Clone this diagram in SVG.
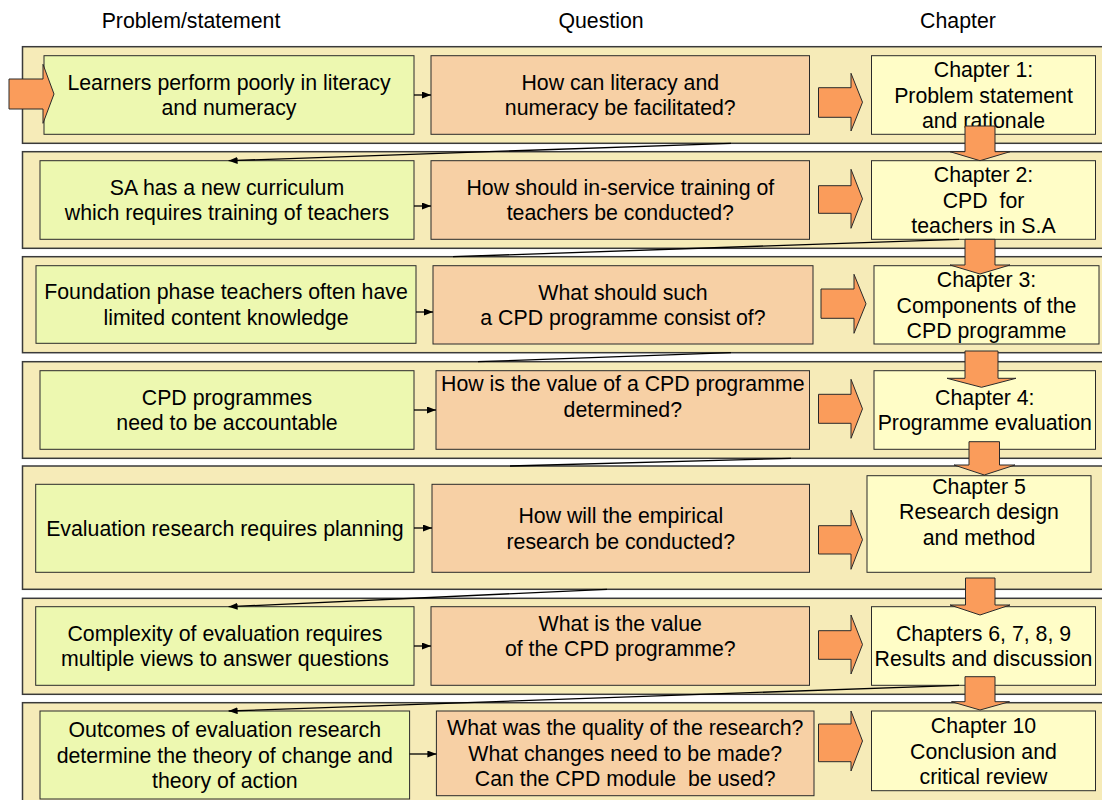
<svg xmlns="http://www.w3.org/2000/svg" width="1102" height="800" viewBox="0 0 1102 800">
<defs>
<style>
.band{fill:#F6EBB8;stroke:#3a3a3a;stroke-width:1.5}
.g{fill:#EDF8B0;stroke:#2a2a2a;stroke-width:1}
.o{fill:#F7D0A5;stroke:#2a2a2a;stroke-width:1}
.c{fill:#FFFDC7;stroke:#2a2a2a;stroke-width:1}
.ar{fill:#FA9C5B;stroke:#2a2a2a;stroke-width:1}
text{font-family:"Liberation Sans",Arial,sans-serif;font-size:21.3px;fill:#000;text-anchor:middle}
.ln{stroke:#000;stroke-width:1.3;fill:none}
</style>
<marker id="ah" markerWidth="9" markerHeight="7" refX="9" refY="3.5" orient="auto" markerUnits="userSpaceOnUse"><path d="M0,0 L9,3.5 L0,7 z" fill="#000"/></marker>
</defs>
<rect width="1102" height="800" fill="#fff"/>
<g id="headers">
<text x="191" y="28">Problem/statement</text>
<text x="601" y="28">Question</text>
<text x="958" y="28">Chapter</text>
</g>
<g id="bands">
<rect class="band" x="22.5" y="46.7" width="1090" height="96.6"/>
<rect class="band" x="22.5" y="151.7" width="1090" height="96.6"/>
<rect class="band" x="22.5" y="256.7" width="1090" height="96"/>
<rect class="band" x="22.5" y="361.7" width="1090" height="96.6"/>
<rect class="band" x="22.5" y="466" width="1090" height="123.3"/>
<rect class="band" x="22.5" y="598.3" width="1090" height="96"/>
<rect class="band" x="22.5" y="702.7" width="1090" height="105"/>
</g>
<g id="row1">
<g id="p1"><rect class="g" x="44" y="55.7" width="370" height="78.6"/><text x="229" y="89.8">Learners perform poorly in literacy</text><text x="229" y="115.3">and numeracy</text></g>
<g id="q1"><rect class="o" x="431" y="55.7" width="378.5" height="78.6"/><text x="620.3" y="89.8">How can literacy and</text><text x="620.3" y="115.3">numeracy be facilitated?</text></g>
<g id="c1"><rect class="c" x="871.5" y="55.7" width="224" height="78.6"/><text x="983.5" y="77">Chapter 1:</text><text x="983.5" y="102.5">Problem statement</text><text x="983.5" y="128">and rationale</text></g>
</g>
<g id="row2">
<g id="p2"><rect class="g" x="40" y="160.7" width="374" height="78.6"/><text x="227" y="194.8">SA has a new curriculum</text><text x="227" y="220.3">which requires training of teachers</text></g>
<g id="q2"><rect class="o" x="431" y="160.7" width="378.5" height="78.6"/><text x="620.3" y="194.8">How should in-service training of</text><text x="620.3" y="220.3">teachers be conducted?</text></g>
<g id="c2"><rect class="c" x="871.5" y="160.7" width="224" height="78.6"/><text x="983.5" y="182">Chapter 2:</text><text x="983.5" y="207.5" xml:space="preserve">CPD  for</text><text x="983.5" y="233">teachers in S.A</text></g>
</g>
<g id="row3">
<g id="p3"><rect class="g" x="36" y="265.7" width="380" height="77.6"/><text x="226" y="299.3">Foundation phase teachers often have</text><text x="226" y="324.8">limited content knowledge</text></g>
<g id="q3"><rect class="o" x="433" y="265.7" width="380" height="78.3"/><text x="623" y="299.8">What should such</text><text x="623" y="325.3">a CPD programme consist of?</text></g>
<g id="c3"><rect class="c" x="874" y="265.7" width="225" height="78.3"/><text x="986.5" y="287">Chapter 3:</text><text x="986.5" y="312.5">Components of the</text><text x="986.5" y="338">CPD programme</text></g>
</g>
<g id="row4">
<g id="p4"><rect class="g" x="40" y="370.7" width="374" height="78.6"/><text x="227" y="404.8">CPD programmes</text><text x="227" y="430.3">need to be accountable</text></g>
<g id="q4"><rect class="o" x="436" y="370.7" width="373.5" height="78.6"/><text x="622.8" y="391">How is the value of a CPD programme</text><text x="622.8" y="416.5">determined?</text></g>
<g id="c4"><rect class="c" x="874" y="370.7" width="221.5" height="78.6"/><text x="984.8" y="404.8">Chapter 4:</text><text x="984.8" y="430.3">Programme evaluation</text></g>
</g>
<g id="row5">
<g id="p5"><rect class="g" x="35.7" y="484.3" width="378.3" height="88"/><text x="224.9" y="535.8">Evaluation research requires planning</text></g>
<g id="q5"><rect class="o" x="432" y="484.3" width="377.5" height="88"/><text x="620.8" y="523">How will the empirical</text><text x="620.8" y="548.5">research be conducted?</text></g>
<g id="c5"><rect class="c" x="867" y="475.7" width="224" height="96.6"/><text x="979" y="493.5">Chapter 5</text><text x="979" y="519">Research design</text><text x="979" y="544.5">and method</text></g>
</g>
<g id="row6">
<g id="p6"><rect class="g" x="35.7" y="606.7" width="378.3" height="78.6"/><text x="224.9" y="640.8">Complexity of evaluation requires</text><text x="224.9" y="666.3">multiple views to answer questions</text></g>
<g id="q6"><rect class="o" x="431" y="606.7" width="378.5" height="78.6"/><text x="620.3" y="630.5">What is the value</text><text x="620.3" y="656">of the CPD programme?</text></g>
<g id="c6"><rect class="c" x="871.5" y="606.7" width="224" height="78.6"/><text x="983.5" y="640.8">Chapters 6, 7, 8, 9</text><text x="983.5" y="666.3">Results and discussion</text></g>
</g>
<g id="row7">
<g id="p7"><rect class="g" x="40" y="711" width="369.6" height="88"/><text x="224.8" y="737">Outcomes of evaluation research</text><text x="224.8" y="762.5">determine the theory of change and</text><text x="224.8" y="788">theory of action</text></g>
<g id="q7"><rect class="o" x="436.4" y="711" width="377.6" height="84.7"/><text x="625.2" y="735.4">What was the quality of the research?</text><text x="625.2" y="760.9">What changes need to be made?</text><text x="625.2" y="786.4" xml:space="preserve">Can the CPD module  be used?</text></g>
<g id="c7"><rect class="c" x="871.5" y="711" width="224" height="79.7"/><text x="983.5" y="733">Chapter 10</text><text x="983.5" y="758.5">Conclusion and</text><text x="983.5" y="784">critical review</text></g>
</g>
<g id="connectors">
<line class="ln" x1="414" y1="95" x2="431" y2="95" marker-end="url(#ah)"/>
<line class="ln" x1="414" y1="206" x2="431" y2="206" marker-end="url(#ah)"/>
<line class="ln" x1="416" y1="312" x2="433" y2="312" marker-end="url(#ah)"/>
<line class="ln" x1="414" y1="410" x2="436" y2="410" marker-end="url(#ah)"/>
<line class="ln" x1="414" y1="528" x2="432" y2="528" marker-end="url(#ah)"/>
<line class="ln" x1="414" y1="646" x2="431" y2="646" marker-end="url(#ah)"/>
<line class="ln" x1="409.6" y1="754" x2="436.4" y2="754" marker-end="url(#ah)"/>
<line class="ln" x1="731" y1="143.3" x2="228.6" y2="160.7" marker-end="url(#ah)"/>
<line class="ln" x1="959" y1="239.3" x2="453" y2="256.7"/>
<line class="ln" x1="731" y1="352.7" x2="478" y2="361.7"/>
<line class="ln" x1="791" y1="458.3" x2="510" y2="466"/>
<line class="ln" x1="607" y1="589.3" x2="228.6" y2="606.7" marker-end="url(#ah)"/>
<line class="ln" x1="959" y1="685.3" x2="228.6" y2="711" marker-end="url(#ah)"/>
</g>
<g id="block-arrows">
<polygon class="ar" points="9,79 43,79 43,64.3 54,94 43,123.3 43,109 9,109"/>
<polygon class="ar" points="818.5,87.7 851,87.7 851,73.3 862.5,102.2 851,131 851,117.3 818.5,117.3"/>
<polygon class="ar" points="818.5,185.7 851,185.7 851,169.3 862.5,198.8 851,228.3 851,213.3 818.5,213.3"/>
<polygon class="ar" points="821,289 854,289 854,274.3 866,303.8 854,333.3 854,318.3 821,318.3"/>
<polygon class="ar" points="818.5,394.3 851,394.3 851,379.3 862.5,408.8 851,438.3 851,423.3 818.5,423.3"/>
<polygon class="ar" points="818.5,525.7 851,525.7 851,510 862.5,539.7 851,569.3 851,554 818.5,554"/>
<polygon class="ar" points="818.5,630.7 851,630.7 851,615 862.5,644.5 851,674 851,659.3 818.5,659.3"/>
<polygon class="ar" points="818.5,724 851,724 851,711 862.5,741 851,771 851,761.7 818.5,761.7"/>
<polygon class="ar" points="965,126 995,126 995,151.7 1010,151.7 980,160.7 950,151.7 965,151.7"/>
<polygon class="ar" points="965,239.3 995,239.3 995,265 1010,265 980,274 950,265 965,265"/>
<polygon class="ar" points="965,351 998,351 998,378.3 1016,378.3 981.5,387.3 947,378.3 965,378.3"/>
<polygon class="ar" points="969,441.7 999.5,441.7 999.5,465 1015,465 984.3,475 954,465 969,465"/>
<polygon class="ar" points="965.5,578 995,578 995,605 1010,605 980,615 950,605 965.5,605"/>
<polygon class="ar" points="965,676.7 995,676.7 995,701.7 1009.5,701.7 980,710 951.5,701.7 965,701.7"/>
</g>
</svg>
